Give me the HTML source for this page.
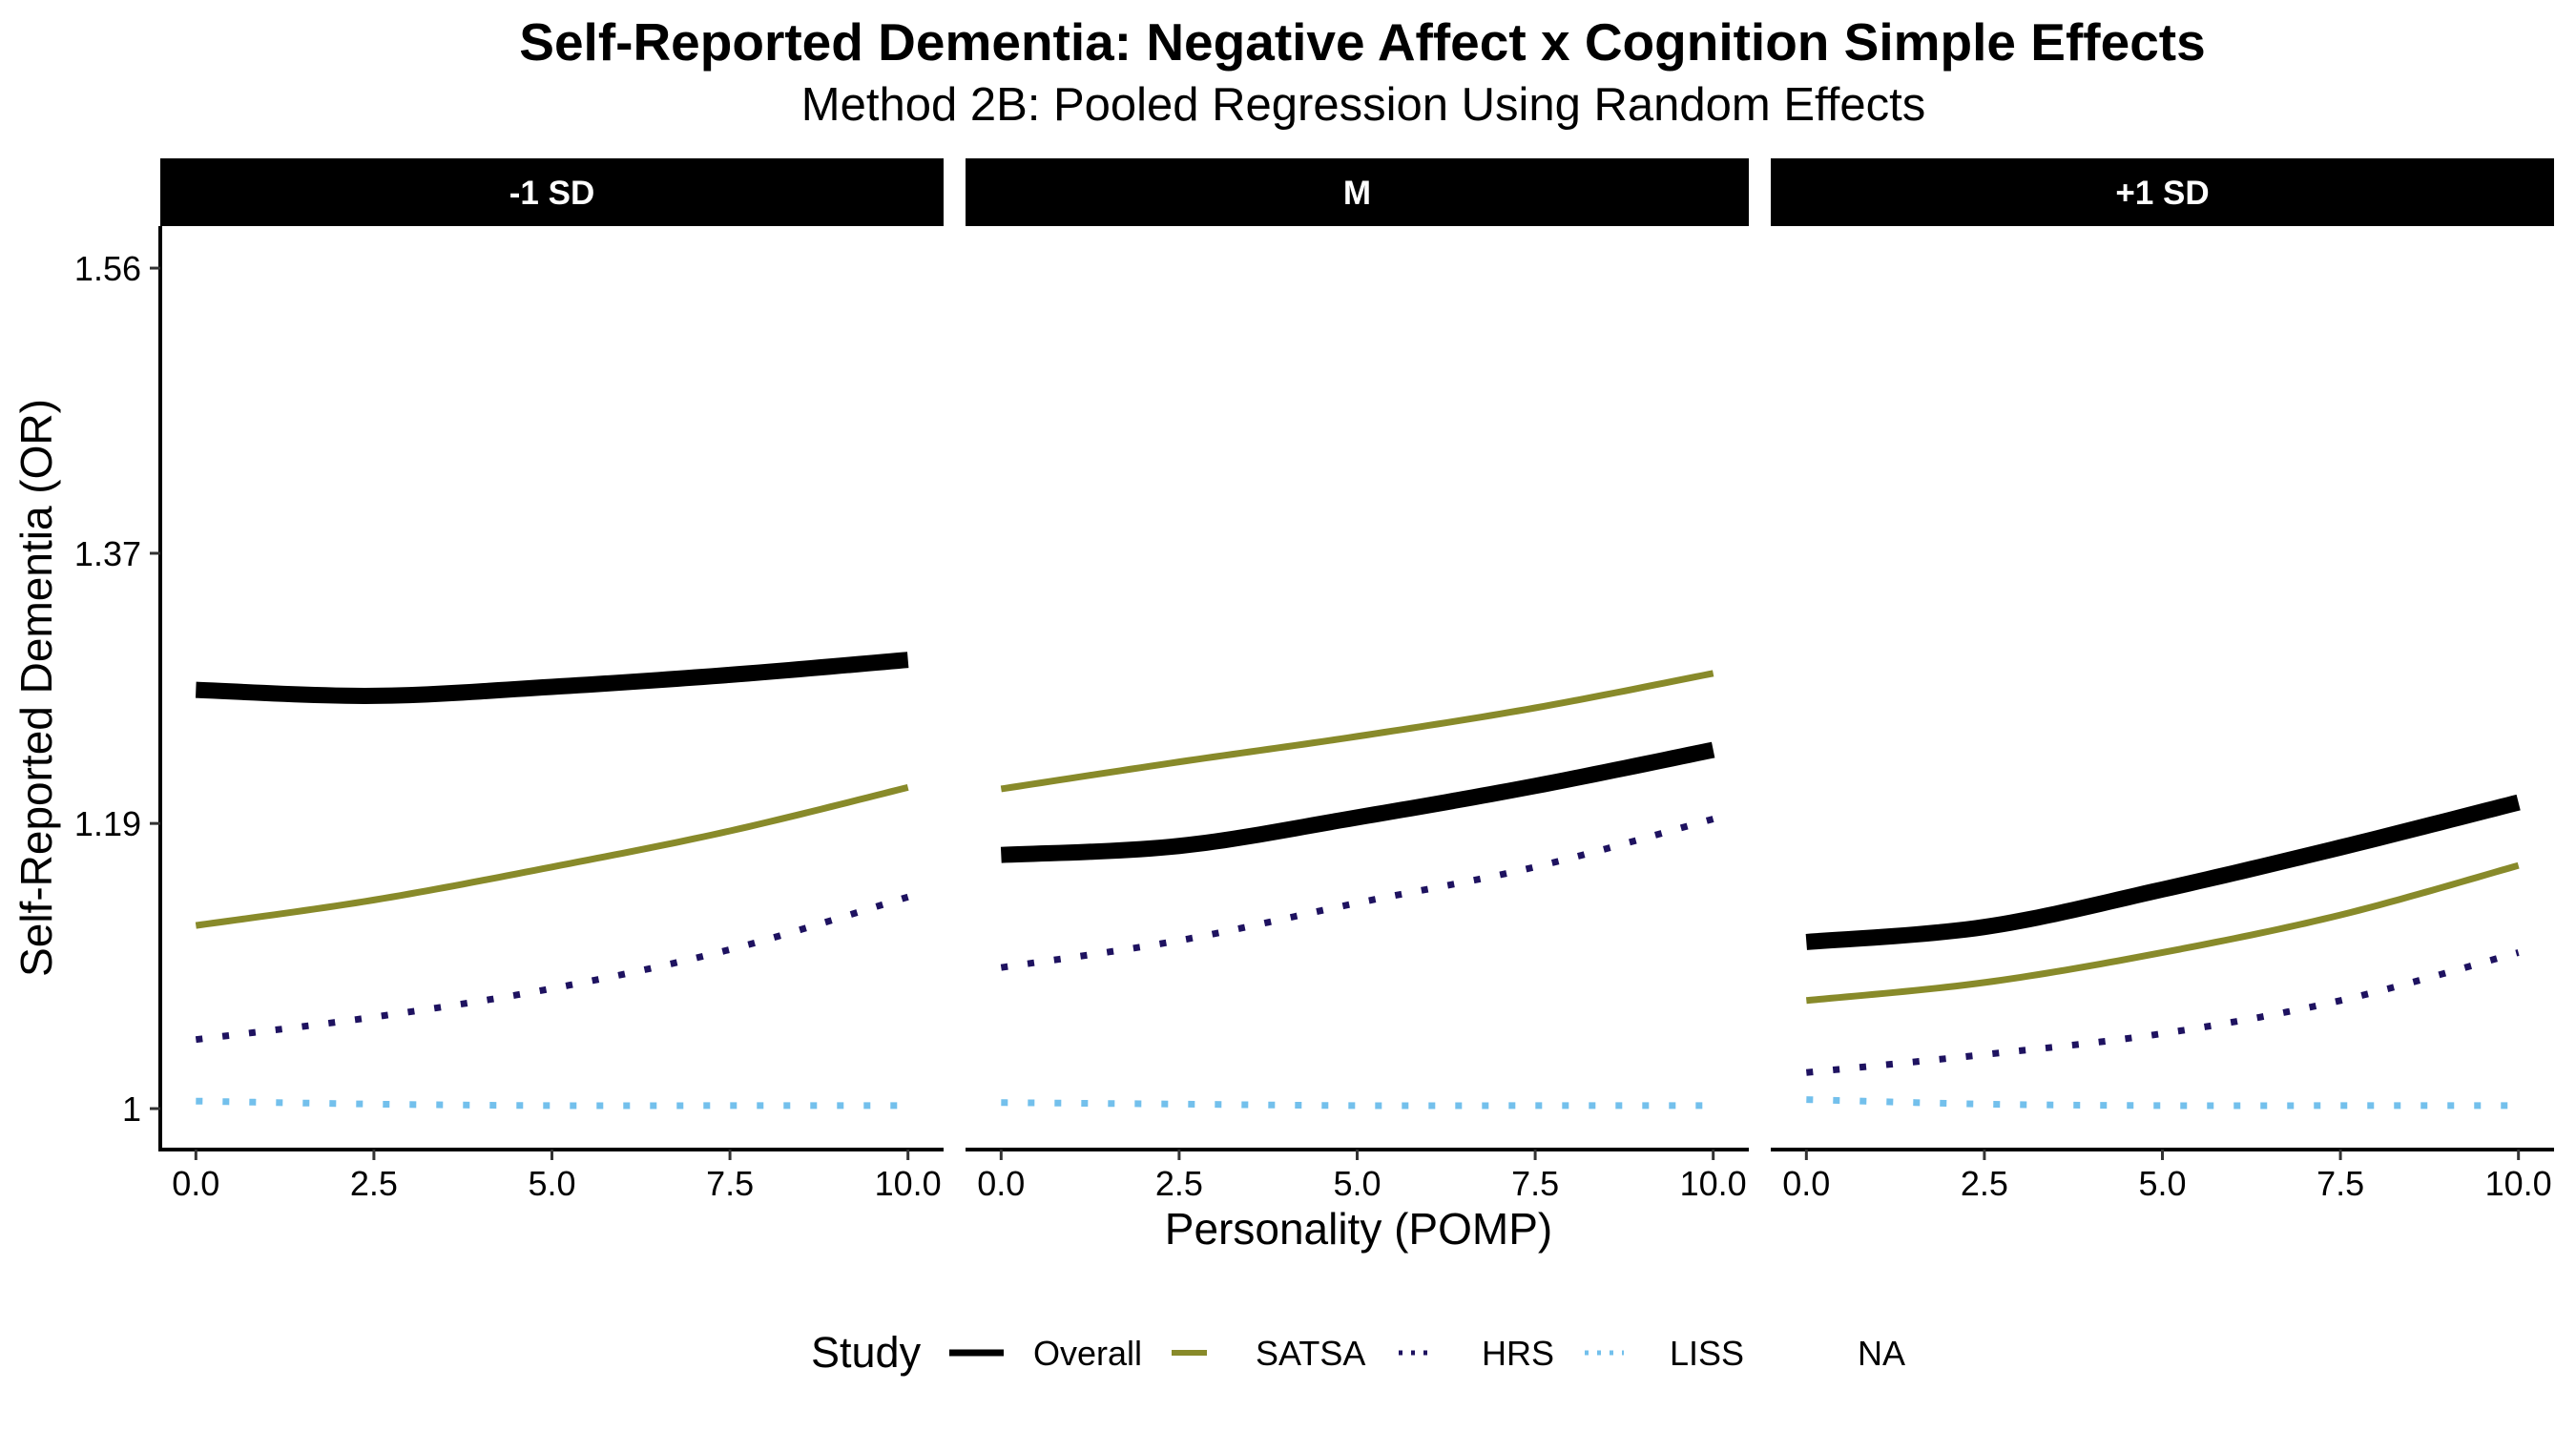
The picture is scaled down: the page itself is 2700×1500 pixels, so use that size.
<!DOCTYPE html>
<html><head><meta charset="utf-8"><style>
html,body{margin:0;padding:0;background:#fff;}
svg{display:block;font-family:"Liberation Sans",Arial,sans-serif;}
</style></head><body>
<svg id="chart" width="2700" height="1500" viewBox="0 0 2700 1500" xmlns="http://www.w3.org/2000/svg">
<text x="1428" y="63" text-anchor="middle" font-size="55" font-weight="bold">Self-Reported Dementia: Negative Affect x Cognition Simple Effects</text>
<text x="1429" y="126" text-anchor="middle" font-size="49">Method 2B: Pooled Regression Using Random Effects</text>
<text transform="translate(54,721) rotate(-90)" text-anchor="middle" font-size="46">Self-Reported Dementia (OR)</text>
<text x="1424" y="1304" text-anchor="middle" font-size="46">Personality (POMP)</text>
<g id="panels"></g>
<g>
<text x="850" y="1433" font-size="45">Study</text>
<line x1="995" y1="1418" x2="1052" y2="1418" stroke="#000" stroke-width="7"/>
<text x="1083" y="1431" font-size="36">Overall</text>
<line x1="1228" y1="1418" x2="1265" y2="1418" stroke="#888A2A" stroke-width="6"/>
<text x="1316" y="1431" font-size="36">SATSA</text>
<line x1="1466" y1="1418" x2="1505" y2="1418" stroke="#1E1260" stroke-width="5" stroke-dasharray="4 9"/>
<text x="1553" y="1431" font-size="36">HRS</text>
<line x1="1661" y1="1418" x2="1702" y2="1418" stroke="#73C0EC" stroke-width="5" stroke-dasharray="4 9"/>
<text x="1750" y="1431" font-size="36">LISS</text>
<text x="1947" y="1431" font-size="36">NA</text>
</g>
</svg>
<script>
const panelLabels = ["-1 SD", "M", "+1 SD"];
const xValues = [0, 2.5, 5, 7.5, 10];
const xTicks = [0, 2.5, 5, 7.5, 10];
const xTickLabels = ["0.0", "2.5", "5.0", "7.5", "10.0"];
const yTicks = [1, 1.19, 1.37, 1.56];
const yTickLabels = ["1", "1.19", "1.37", "1.56"];
const overall = [[1.279, 1.275, 1.281, 1.289, 1.299],[1.169, 1.175, 1.194, 1.215, 1.239],[1.111, 1.121, 1.146, 1.174, 1.204]];
const satsa = [[1.122, 1.139, 1.161, 1.185, 1.214],[1.213, 1.231, 1.248, 1.267, 1.290],[1.072, 1.084, 1.104, 1.129, 1.162]];
const hrs = [[1.046, 1.061, 1.080, 1.106, 1.141],[1.094, 1.112, 1.137, 1.161, 1.193],[1.024, 1.036, 1.050, 1.072, 1.104]];
const liss = [[1.005, 1.003, 1.002, 1.002, 1.002],[1.004, 1.003, 1.002, 1.002, 1.002],[1.006, 1.003, 1.002, 1.002, 1.002]];

const NS = "http://www.w3.org/2000/svg";
const panelX0 = [168, 1012, 1856];
const panelW = 821;
const plotTop = 237, plotBottom = 1205;
const xMin = -0.5, xMax = 10.5;
const yMin = 0.9727, yMax = 1.588;
function yScale(v){ return plotBottom - (v - yMin) / (yMax - yMin) * (plotBottom - plotTop); }
function mk(tag, attrs, parent){ const e = document.createElementNS(NS, tag); for (const k in attrs) e.setAttribute(k, attrs[k]); parent.appendChild(e); return e; }
function smoothPath(xs, ys){
  let d = "";
  const n = xs.length;
  for (let i = 0; i < n - 1; i++) {
    const p0 = i > 0 ? i - 1 : i, p3 = i + 2 < n ? i + 2 : i + 1;
    for (let s = 0; s <= 20; s++) {
      if (i > 0 && s === 0) continue;
      const t = s / 20, t2 = t*t, t3 = t2*t;
      const f = (a,b,c,e) => 0.5*((2*b) + (-a + c)*t + (2*a - 5*b + 4*c - e)*t2 + (-a + 3*b - 3*c + e)*t3);
      const x = f(xs[p0], xs[i], xs[i+1], xs[p3]);
      const y = f(ys[p0], ys[i], ys[i+1], ys[p3]);
      d += (d ? " L" : "M") + x.toFixed(2) + " " + y.toFixed(2);
    }
  }
  return d;
}
const panelsG = document.getElementById("panels");
panelLabels.forEach((lab, p) => {
  const x0 = panelX0[p];
  const xScale = v => x0 + (v - xMin) / (xMax - xMin) * panelW;
  const g = mk("g", {}, panelsG);
  
  
  const strip = mk("rect", {x: x0, y: 166, width: panelW, height: 71, fill: "#000"}, g);
  
  
  const st = mk("text", {x: x0 + panelW/2, y: 214, "text-anchor": "middle", "font-size": 35, "font-weight": "bold", fill: "#fff"}, g);
  st.textContent = lab;
  
  
  const xa = mk("line", {x1: x0, y1: plotBottom, x2: x0 + panelW, y2: plotBottom, stroke: "#000", "stroke-width": 4}, g);
  
  
  xTicks.forEach((t, i) => {
    const tx = xScale(t);
    const tl = mk("line", {x1: tx, y1: plotBottom, x2: tx, y2: plotBottom + 11, stroke: "#333", "stroke-width": 3}, g);
    
    
    const tt = mk("text", {x: tx, y: 1253, "text-anchor": "middle", "font-size": 36, fill: "#000"}, g);
    tt.textContent = xTickLabels[i];
    
    
  });
  if (p === 0) {
    const ya = mk("line", {x1: x0, y1: plotTop, x2: x0, y2: plotBottom + 2, stroke: "#000", "stroke-width": 4}, g);
    
    
    yTicks.forEach((t, i) => {
      const ty = yScale(t);
      const tl = mk("line", {x1: x0 - 11, y1: ty, x2: x0, y2: ty, stroke: "#333", "stroke-width": 3}, g);
      
      
      const tt = mk("text", {x: x0 - 20, y: ty + 13, "text-anchor": "end", "font-size": 36, fill: "#000"}, g);
      tt.textContent = yTickLabels[i];
      
      
    });
  }
  const series = [
    {name: "liss", vals: liss[p], color: "#73C0EC", w: 7, dash: "7 21"},
    {name: "hrs", vals: hrs[p], color: "#1E1260", w: 7, dash: "7 21"},
    {name: "satsa", vals: satsa[p], color: "#888A2A", w: 7, dash: null},
    {name: "overall", vals: overall[p], color: "#000000", w: 17, dash: null}
  ];
  series.forEach(s => {
    const xs = xValues.map(xScale), ys = s.vals.map(yScale);
    const attrs = {d: smoothPath(xs, ys), fill: "none", stroke: s.color, "stroke-width": s.w, "stroke-linecap": "butt"};
    if (s.dash) attrs["stroke-dasharray"] = s.dash;
    const path = mk("path", attrs, g);
    
    
  });
});
</script>
</body></html>
